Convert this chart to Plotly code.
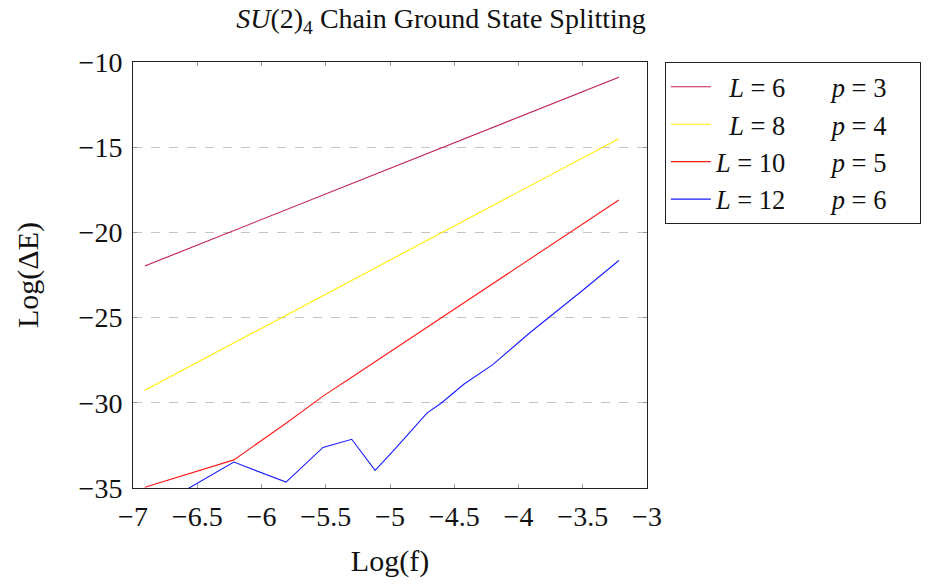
import plotly.graph_objects as go

# Log(f) sample positions
log_f = [-6.908, -6.215, -5.809, -5.521, -5.298, -5.116, -4.962, -4.828,
         -4.711, -4.605, -4.423, -4.200, -3.912, -3.507, -3.219]

# Log(ΔE) for each chain length
L6 = [-21.97, -19.89, -18.67, -17.81, -17.14, -16.59, -16.13, -15.73,
      -15.38, -15.06, -14.51, -13.84, -12.98, -11.76, -10.90]
L8 = [-29.26, -26.48, -24.86, -23.71, -22.82, -22.09, -21.47, -20.94,
      -20.47, -20.04, -19.32, -18.42, -17.27, -15.65, -14.50]
L10 = [-34.96, -33.35, -31.20, -29.61, -28.50, -27.59, -26.82, -26.15,
       -25.56, -25.03, -24.12, -23.01, -21.57, -19.54, -18.10]
L12 = [-36.50, -33.48, -34.65, -32.62, -32.14, -33.97, -32.72, -31.59,
       -30.59, -30.04, -28.90, -27.76, -25.89, -23.44, -21.65]

names = ["\u2002<i>L</i> = 6 \u2003\u2002<i>p</i> = 3\u2002\u2002",
         "\u2002<i>L</i> = 8 \u2003\u2002<i>p</i> = 4\u2002\u2002",
         "<i>L</i> = 10 \u2003\u2002<i>p</i> = 5\u2002\u2002",
         "<i>L</i> = 12 \u2003\u2002<i>p</i> = 6\u2002\u2002"]
series = [L6, L8, L10, L12]
colors = ["#bf1a4f", "#ffee00", "#ff1a1a", "#1a1aff"]

x_ticks = [-7, -6.5, -6, -5.5, -5, -4.5, -4, -3.5, -3]
y_ticks = [-35, -30, -25, -20, -15, -10]

FONT = "Liberation Serif"

fig = go.Figure()
for i, (nm, ys, c) in enumerate(zip(names, series, colors)):
    fig.add_trace(go.Scatter(x=log_f, y=ys, mode="lines", name=nm,
                             legendgroup=f"g{i}",
                             line=dict(color=c, width=1.1)))

axis_common = dict(showline=True, mirror="ticks", linecolor="#222", linewidth=1,
                   ticks="inside", ticklen=4, tickcolor="#999", tickwidth=1,
                   zeroline=False, tickfont=dict(family=FONT, size=28, color="#111"))

fig.update_layout(
    width=933, height=584,
    margin=dict(l=133, r=283, t=62, b=94),
    paper_bgcolor="white", plot_bgcolor="white",
    font=dict(family=FONT, size=28, color="#111"),
    title=dict(text="<i>SU</i>(2)<sub>4</sub> Chain Ground State Splitting",
               x=441/933, xanchor="center", y=1 - 18/584, yanchor="middle",
               font=dict(family=FONT, size=28, color="#111")),
    xaxis=dict(range=[-7, -3], tickvals=x_ticks, showgrid=False,
               title=dict(text="Log(f)", font=dict(family=FONT, size=30), standoff=19),
               ticklabelstandoff=3, **axis_common),
    yaxis=dict(range=[-35, -10], tickvals=y_ticks, showgrid=True,
               gridcolor="#c4c4c4", griddash="dash", gridwidth=1,
               title=dict(text="Log(ΔE)", font=dict(family=FONT, size=30), standoff=31),
               ticklabelstandoff=4, **axis_common),
    legend=dict(x=(668 - 133) / (650 - 133), y=1.0, xanchor="left", yanchor="top",
                bordercolor="#222", borderwidth=1, bgcolor="white",
                font=dict(family=FONT, size=26.5, color="#111"),
                tracegroupgap=0, itemwidth=40),
    showlegend=True,
)

fig.write_html("out.html", post_script="document.body.style.margin='0';",
               config={"displayModeBar": False})
